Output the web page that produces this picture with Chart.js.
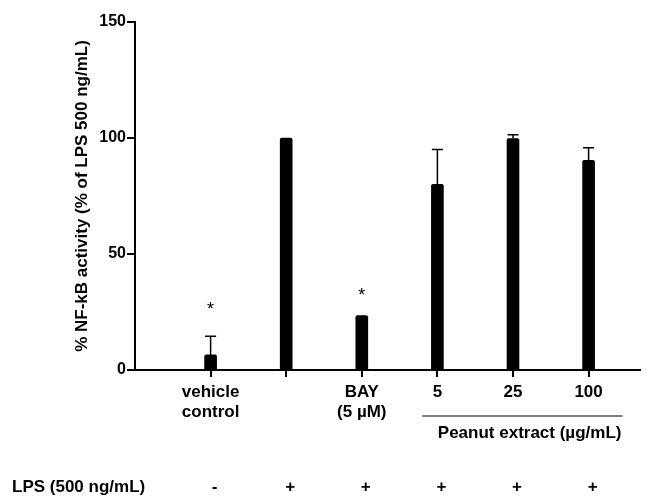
<!DOCTYPE html>
<html>
<head>
<meta charset="utf-8">
<script src="https://cdn.jsdelivr.net/npm/chart.js@4/dist/chart.umd.min.js"></script>
<style>
  html, body { margin: 0; padding: 0; background: #fff; }
  #box { width: 663px; height: 496px; }
</style>
</head>
<body>
<div id="box"><canvas id="grafica"></canvas></div>
<script>
// datos
const categories = [['vehicle', 'control'], '', ['BAY', '(5 µM)'], '5', '25', '100'];
const meanValues = [6.5, 100, 23.5, 80, 99.8, 90.4];
const errorValues = [8, 0, 0, 15, 1.6, 5.4];
const starLevels = [28, null, 34, null, null, null];
const lpsSigns = ['-', '+', '+', '+', '+', '+'];
const yTicks = [0, 50, 100, 150];
const yTitle = '% NF-kB activity (% of LPS 500 ng/mL)';
const groupLabel = 'Peanut extract (µg/mL)';
const lpsLabel = 'LPS (500 ng/mL)';

const FONT = "'Liberation Sans', Arial, sans-serif";

// barras de error, asteriscos y textos de abajo
const extras = {
    id: 'extras',
    afterDatasetsDraw(chart) {
        const ctx = chart.ctx;
        const x = chart.scales.x, y = chart.scales.y;
        ctx.save();
        ctx.strokeStyle = '#000';
        ctx.fillStyle = '#000';

        // error bars (solo hacia arriba)
        ctx.lineWidth = 1.5;
        meanValues.forEach(function (v, i) {
            if (!errorValues[i]) return;
            const px = x.getPixelForValue(i);
            const top = y.getPixelForValue(v + errorValues[i]);
            const base = y.getPixelForValue(v);
            ctx.beginPath();
            ctx.moveTo(px, base);
            ctx.lineTo(px, top);
            ctx.moveTo(px - 5.5, top);
            ctx.lineTo(px + 5.5, top);
            ctx.stroke();
        });

        // asteriscos
        ctx.font = '18px ' + FONT;
        ctx.textAlign = 'center';
        ctx.textBaseline = 'alphabetic';
        starLevels.forEach(function (s, i) {
            if (s === null) return;
            ctx.fillText('*', x.getPixelForValue(i), y.getPixelForValue(s) + 10);
        });

        // linea del extracto
        ctx.lineWidth = 1;
        ctx.beginPath();
        ctx.moveTo(x.getPixelForValue(2.8), 416);
        ctx.lineTo(x.getPixelForValue(5.45), 416);
        ctx.stroke();

        ctx.font = 'bold 17px ' + FONT;
        ctx.textBaseline = 'middle';
        ctx.fillText(groupLabel, x.getPixelForValue(4.22), 433);

        // fila LPS
        ctx.textAlign = 'left';
        ctx.fillText(lpsLabel, 12, 487);
        ctx.textAlign = 'center';
        lpsSigns.forEach(function (s, i) {
            ctx.fillText(s, x.getPixelForValue(i) + 4, 487);
        });

        // titulo eje y
        ctx.save();
        ctx.translate(82, (chart.chartArea.top + chart.chartArea.bottom) / 2);
        ctx.rotate(-Math.PI / 2);
        ctx.font = 'bold 17px ' + FONT;
        ctx.fillText(yTitle, 0, 0);
        ctx.restore();

        ctx.restore();
    }
};

const ctx = document.getElementById('grafica');
const miGrafica = new Chart(ctx, {
    type: 'bar',
    data: {
        datasets: [{
            data: meanValues.map(function (v, i) { return {x: i, y: v}; }),
            backgroundColor: '#000',
            borderColor: '#000',
            barThickness: 12,
            borderRadius: 2,
            borderSkipped: 'bottom'
        }]
    },
    options: {
        responsive: true,
        maintainAspectRatio: false,
        animation: false,
        layout: { padding: { top: 22, right: 23, left: 0, bottom: 0 } },
        plugins: {
            legend: { display: false },
            tooltip: { enabled: false }
        },
        scales: {
            x: {
                type: 'linear',
                min: -1,
                max: 5.68,
                offset: false,
                afterBuildTicks: function (scale) {
                    scale.ticks = categories.map(function (c, i) { return {value: i}; });
                },
                afterFit: function (scale) { scale.height = 126; },
                border: { display: true, color: '#000', width: 2 },
                grid: {
                    display: true,
                    offset: false,
                    drawOnChartArea: false,
                    drawTicks: true,
                    tickLength: 7,
                    color: '#000',
                    lineWidth: 2
                },
                ticks: {
                    autoSkip: false,
                    maxRotation: 0,
                    padding: 5,
                    color: '#000',
                    font: { family: FONT, size: 17, weight: 'bold', lineHeight: 1.2 },
                    callback: function (value) { return categories[value]; }
                }
            },
            y: {
                min: 0,
                max: 150,
                afterBuildTicks: function (scale) {
                    scale.ticks = yTicks.map(function (v) { return {value: v}; });
                },
                afterFit: function (scale) { scale.width = 135; },
                border: { display: true, color: '#000', width: 2 },
                grid: {
                    display: true,
                    drawOnChartArea: false,
                    drawTicks: true,
                    tickLength: 8,
                    color: '#000',
                    lineWidth: 2
                },
                ticks: {
                    padding: 1,
                    color: '#000',
                    font: { family: FONT, size: 16, weight: 'bold' }
                }
            }
        }
    },
    plugins: [extras]
});
</script>
</body>
</html>
